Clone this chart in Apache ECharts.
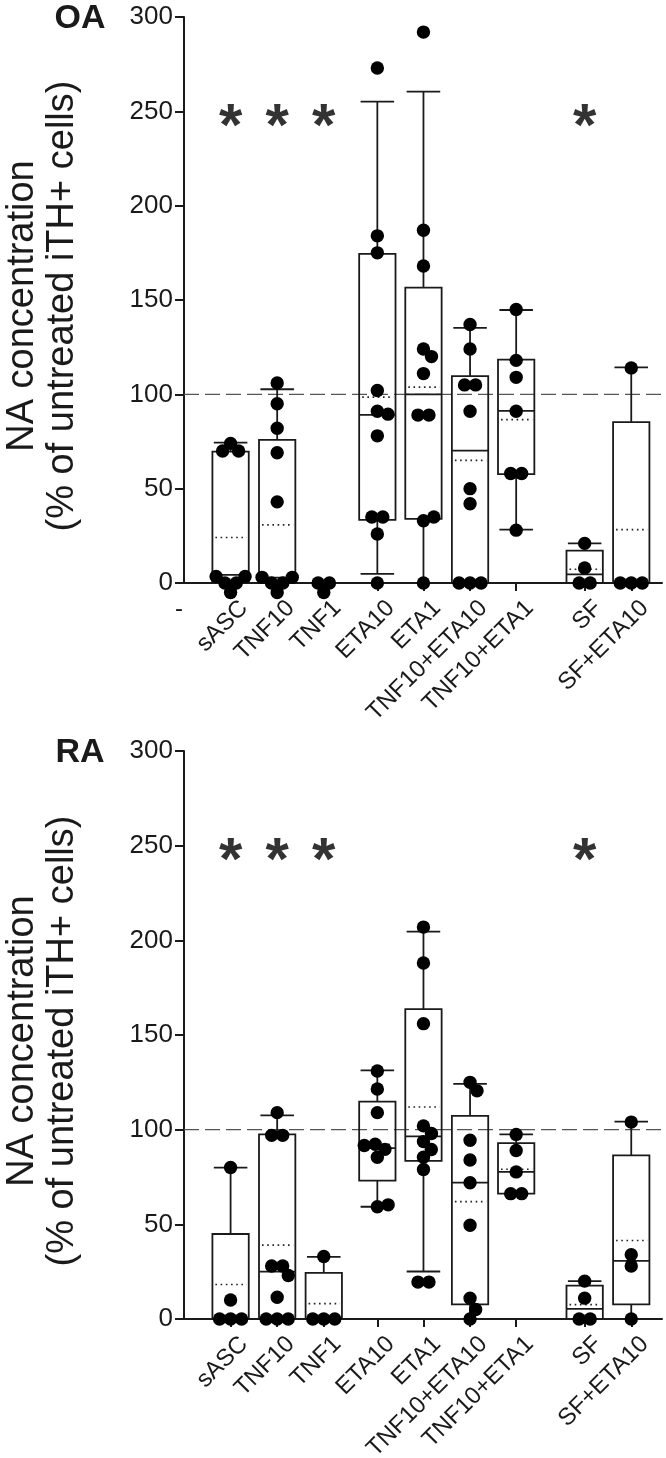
<!DOCTYPE html>
<html>
<head>
<meta charset="utf-8">
<script src="https://cdn.jsdelivr.net/npm/echarts@6/dist/echarts.min.js"></script>
<style>
html,body{margin:0;padding:0;background:#fff}
#c{width:666px;height:1458px}
</style>
</head>
<body>
<div id="c"></div>
<script>
// ---------------- data ----------------
const categories = ['sASC','TNF10','TNF1','ETA10','ETA1','TNF10+ETA10','TNF10+ETA1','SF','SF+ETA10'];
const panelNames = ['OA','RA'];
const yTitleLines = ['NA concentration','(% of untreated iTH+ cells)'];

// individual measurements (% of untreated iTH+ cells)
const oaPoints = [
  [74, 70, 70, 3.5, 3.5, 0, 0, -5],
  [106, 95, 82, 69, 43, 3, 3, 0, 0, -5],
  [0, 0, -5],
  [273, 184, 175, 102, 91, 89.5, 78, 35, 35, 26, 0],
  [292, 187, 168, 124, 120, 111, 89, 89, 35, 33, 0],
  [137, 124, 105, 105, 91, 50, 42, 0, 0, 0],
  [145, 118, 109, 91, 58, 58, 28],
  [21, 8, 0, 0],
  [114, 0, 0, 0]
];
const raPoints = [
  [80, 10, 0, 0, 0],
  [109, 97, 97, 28, 28, 23, 11.5, 0, 0, 0],
  [33, 0, 0, 0],
  [131, 121.5, 109, 92.3, 91.6, 89.6, 85.4, 60.3, 59.3],
  [207, 188, 156, 102, 98, 93.7, 89.5, 85.4, 79, 19.5, 19.5],
  [125, 120.5, 94.4, 84, 72, 49.5, 11, 5, 0],
  [97.5, 89, 77.7, 66.2, 66.2],
  [20, 11, 0, 0],
  [104, 34, 28, 0]
];
// box statistics: [lower whisker, Q1, median, Q3, upper whisker]
const oaBoxes = [
  [0, 0, 4.3, 69.6, 74.4],
  [0, 0, 2.8, 75.9, 102.7],
  null,
  [4.8, 33.5, 89.1, 174.4, 255.1],
  [0, 34, 100, 156.6, 260.4],
  [0, 0, 70.2, 109.6, 135.2],
  [28.3, 57.7, 91.2, 118.4, 144.7],
  [0, 0, 4.6, 17.2, 21],
  [0, 0, 0, 85.3, 114.3]
];
const oaMeans = [24.1, 30.8, null, 98.5, 103.8, 65, 86.6, 7.3, 28.3];
const raBoxes = [
  [0, 0, 0, 44.9, 80],
  [0, 0, 25, 97.5, 107.5],
  [0, 0, 0, 24.4, 32.8],
  [59.3, 73.1, 90.2, 114.8, 131.3],
  [25.1, 83.5, 96.5, 163.7, 204.6],
  [0, 7.7, 72, 107.3, 124.2],
  [66.2, 66.2, 77.7, 92.9, 97.5],
  [0, 0, 5.3, 17.6, 20],
  [0, 7.7, 30.7, 86.4, 104.2]
];
const raMeans = [18.2, 39, 8.1, 92.3, 112, 62, 79.1, 7.6, 41.5];
const oaStars = ['sASC','TNF10','TNF1','SF'];
const raStars = ['sASC','TNF10','TNF1','SF'];
const starLevel = 248;
const refLevel = 100;
const yMin = 0, yMax = 300, yStep = 50;

// ---------------- layout (not data) ----------------
const groupPos = [1, 2, 3, 4.15, 5.14, 6.14, 7.13, 8.6, 9.6];
const xMax = 10.26;
const FONT = '"Liberation Sans", Arial, Helvetica, sans-serif';
const INK = '#1a1a1a';
const grids = [
  {left: 184, top: 17, width: 478, height: 566},
  {left: 184, top: 751, width: 478, height: 568}
];

// ---------------- helpers ----------------
function swarm(ys, d) {
  const n = ys.length;
  const order = ys.map((y, i) => i).sort((a, b) => ys[a] - ys[b]);
  const rows = [];
  for (const i of order) {
    const last = rows[rows.length - 1];
    if (last && Math.abs(ys[i] - ys[last[0]]) < 1.5) last.push(i); else rows.push([i]);
  }
  const sorted = ys.slice().sort((a, b) => a - b);
  const med = sorted[Math.floor(n / 2)];
  rows.sort((a, b) => Math.abs(ys[b[0]] - med) - Math.abs(ys[a[0]] - med));
  const placed = [];
  const xs = new Array(n).fill(0);
  const ok = (list, x, y) => list.every(p => (p.x - x) * (p.x - x) + (p.y - y) * (p.y - y) >= d * d - 0.1);
  for (const row of rows) {
    let rp = [];
    for (const i of row) {
      const y = ys[i];
      const others = placed.concat(rp);
      const cands = [0];
      for (const p of others) {
        const dy = Math.abs(p.y - y);
        if (dy < d) {
          const dx = Math.sqrt(d * d - dy * dy);
          cands.push(p.x + dx + 0.01, p.x - dx - 0.01);
        }
      }
      cands.sort((a, b) => (Math.abs(a) - Math.abs(b)) || (b - a));
      let best = cands[cands.length - 1];
      for (const cx of cands) { if (ok(others, cx, y)) { best = cx; break; } }
      rp.push({x: best, y: y, i: i});
    }
    if (rp.length > 1) {
      const m = rp.reduce((s, p) => s + p.x, 0) / rp.length;
      const sh = rp.map(p => ({x: p.x - m, y: p.y, i: p.i}));
      if (sh.every(q => ok(placed, q.x, q.y))) rp = sh;
    }
    for (const p of rp) { placed.push(p); xs[p.i] = p.x; }
  }
  return xs;
}

function renderBox(params, api) {
  const pos = api.value(0);
  const wl = api.value(2), q1 = api.value(3), md = api.value(4), q3 = api.value(5), wh = api.value(6), mn = api.value(7);
  const unit = api.size([1, 0])[0];
  const bw = unit * 0.78, cw = unit * 0.72;
  const X = api.coord([pos, 0])[0];
  const Y = v => api.coord([pos, v])[1];
  const st = {stroke: INK, lineWidth: 1.8, fill: 'none'};
  const ch = [];
  const line = (x1, y1, x2, y2, style) => ch.push({type: 'line', shape: {x1, y1, x2, y2}, style: style || st});
  if (wh > q3) { line(X, Y(q3), X, Y(wh)); line(X - cw / 2, Y(wh), X + cw / 2, Y(wh)); }
  if (wl < q1) { line(X, Y(q1), X, Y(wl)); line(X - cw / 2, Y(wl), X + cw / 2, Y(wl)); }
  ch.push({type: 'rect', shape: {x: X - bw / 2, y: Y(q3), width: bw, height: Y(q1) - Y(q3)}, style: st});
  line(X - bw / 2, Y(md), X + bw / 2, Y(md));
  if (!isNaN(mn)) line(X - bw / 2 + 3, Y(mn), X + bw / 2 - 2, Y(mn), {stroke: '#222', lineWidth: 1.6, lineDash: [1.6, 3.6]});
  return {type: 'group', children: ch};
}

function dotRenderer(points) {
  return function (params, api) {
    const pos = api.value(0);
    const gi = api.value(2);
    const vals = points[gi];
    const X = api.coord([pos, 0])[0];
    const ys = vals.map(v => api.coord([pos, v])[1]);
    const xs = swarm(ys, 11);
    return {type: 'group', children: ys.map((y, k) => ({type: 'circle', shape: {cx: X + xs[k], cy: y, r: 6.7}, style: {fill: '#000'}}))};
  };
}

function renderStar(params, api) {
  const p = api.coord([api.value(0), api.value(1)]);
  const fs = 60;
  return {type: 'text', x: p[0], y: p[1] + fs * 0.22, style: {text: '*', font: 'bold ' + fs + 'px ' + FONT, fill: '#333', align: 'center', verticalAlign: 'middle'}};
}

function renderLabel(params, api) {
  const p = api.coord([api.value(0), 0]);
  const name = categories[api.value(2)];
  return {type: 'text', x: p[0] + 5, y: p[1] + 13, rotation: Math.PI / 4,
    style: {text: name, font: 'normal 24px ' + FONT, fill: INK, align: 'right', verticalAlign: 'top'}};
}

// ---------------- option ----------------
const xAxes = [], yAxes = [], series = [], graphics = [];
[[oaPoints, oaBoxes, oaMeans, oaStars], [raPoints, raBoxes, raMeans, raStars]].forEach((panel, g) => {
  const [pts, boxes, means, stars] = panel;
  xAxes.push({
    gridIndex: g, type: 'value', min: 0, max: xMax,
    axisLine: {show: true, onZero: false, lineStyle: {color: INK, width: 2}},
    axisTick: {show: true, customValues: groupPos, length: 8, lineStyle: {color: INK, width: 2}},
    axisLabel: {show: false},
    splitLine: {show: false}
  });
  yAxes.push({
    gridIndex: g, type: 'value', min: yMin, max: yMax, interval: yStep,
    axisLine: {show: true, lineStyle: {color: INK, width: 2}},
    axisTick: {show: true, length: 9, lineStyle: {color: INK, width: 2}},
    axisLabel: {fontSize: 26, fontFamily: FONT, color: INK, margin: 11},
    splitLine: {show: false}
  });
  series.push({
    type: 'line', xAxisIndex: g, yAxisIndex: g, z: 1, silent: true, showSymbol: false, symbol: 'none',
    data: [[0, refLevel], [xMax, refLevel]],
    lineStyle: {type: [15, 6], color: '#555', width: 1.3}
  });
  const boxData = [];
  boxes.forEach((b, i) => { if (b) boxData.push([groupPos[i], i, b[0], b[1], b[2], b[3], b[4], means[i]]); });
  series.push({type: 'custom', xAxisIndex: g, yAxisIndex: g, z: 2, silent: true,
    encode: {x: 0, y: 4}, renderItem: renderBox, data: boxData});
  series.push({type: 'custom', xAxisIndex: g, yAxisIndex: g, z: 3, silent: true,
    encode: {x: 0, y: 1}, renderItem: dotRenderer(pts),
    data: categories.map((c, i) => [groupPos[i], 0, i])});
  series.push({type: 'custom', xAxisIndex: g, yAxisIndex: g, z: 3, silent: true,
    encode: {x: 0, y: 1}, renderItem: renderStar,
    data: stars.map(s => [groupPos[categories.indexOf(s)], starLevel])});
  series.push({type: 'custom', xAxisIndex: g, yAxisIndex: g, z: 3, silent: true, clip: false,
    encode: {x: 0, y: 1}, renderItem: renderLabel,
    data: categories.map((c, i) => [groupPos[i], 0, i])});
  const gr = grids[g];
  graphics.push({type: 'text', x: 80, y: gr.top + 2, style: {text: panelNames[g], font: 'bold 34px ' + FONT, fill: INK, align: 'center', verticalAlign: 'middle'}});
  graphics.push({type: 'text', x: 43, y: gr.top + gr.height / 2 + 6, rotation: Math.PI / 2,
    style: {text: yTitleLines.join('\n'), font: 'normal 38px ' + FONT, lineHeight: 40, fill: INK, align: 'center', verticalAlign: 'middle'}});
});
graphics.push({type: 'text', x: 179, y: 609, style: {text: '-', font: 'normal 24px ' + FONT, fill: INK, align: 'center', verticalAlign: 'middle'}});

const chart = echarts.init(document.getElementById('c'));
chart.setOption({
  animation: false,
  backgroundColor: '#fff',
  grid: grids,
  xAxis: xAxes,
  yAxis: yAxes,
  series: series,
  graphic: graphics
});
</script>
</body>
</html>
